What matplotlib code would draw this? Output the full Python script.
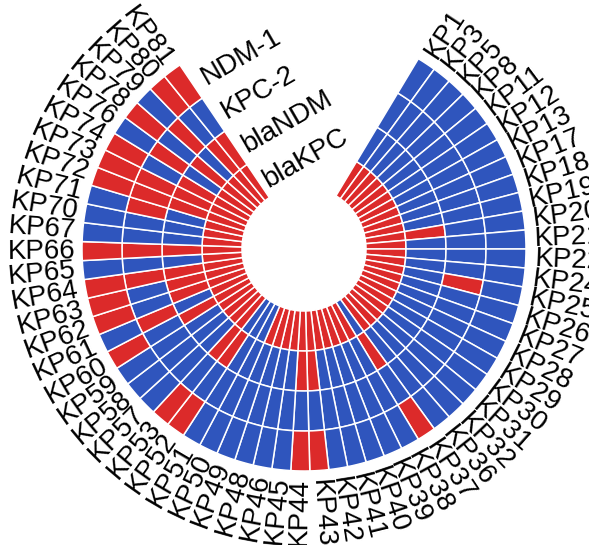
import numpy as np
import matplotlib.pyplot as plt

samples = ['KP1', 'KP3', 'KP5', 'KP8', 'KP11', 'KP12', 'KP13', 'KP17', 'KP18', 'KP19',
           'KP20', 'KP21', 'KP22', 'KP24', 'KP25', 'KP26', 'KP27', 'KP28', 'KP29', 'KP30',
           'KP31', 'KP32', 'KP36', 'KP37', 'KP38', 'KP39', 'KP40', 'KP41', 'KP42', 'KP43',
           'KP44', 'KP45', 'KP46', 'KP48', 'KP49', 'KP50', 'KP51', 'KP52', 'KP53', 'KP57',
           'KP58', 'KP59', 'KP60', 'KP61', 'KP62', 'KP63', 'KP64', 'KP65', 'KP66', 'KP67',
           'KP70', 'KP71', 'KP72', 'KP73', 'KP74', 'KP76', 'KP78', 'KP79', 'KP80', 'KP81']

tracks = ['blaKPC', 'blaNDM', 'KPC-2', 'NDM-1']

# 1 = positive (red), 0 = negative (blue); one list per track, in sample order
blaKPC = [1, 1, 1, 1, 1, 1, 1, 1, 1, 1,
          1, 1, 1, 1, 1, 1, 1, 1, 1, 1,
          1, 1, 1, 0, 1, 1, 1, 1, 1, 1,
          1, 1, 1, 1, 1, 0, 0, 0, 1, 1,
          1, 1, 1, 1, 1, 1, 1, 1, 1, 1,
          1, 1, 1, 1, 1, 1, 1, 1, 1, 1]
blaNDM = [0, 0, 0, 0, 0, 0, 0, 0, 0, 0,
          1, 0, 0, 0, 0, 0, 0, 0, 0, 0,
          0, 0, 0, 1, 0, 0, 0, 0, 0, 1,
          1, 0, 0, 0, 0, 0, 0, 1, 1, 0,
          0, 0, 1, 0, 1, 1, 1, 0, 1, 0,
          0, 0, 1, 1, 1, 0, 1, 0, 1, 1]
KPC2 = [0, 0, 0, 0, 0, 0, 0, 0, 0, 0,
        0, 0, 0, 0, 1, 0, 0, 0, 0, 0,
        0, 0, 0, 0, 0, 0, 0, 0, 0, 0,
        0, 0, 0, 0, 0, 0, 0, 0, 0, 0,
        0, 0, 0, 1, 0, 0, 1, 0, 1, 0,
        0, 1, 1, 1, 0, 1, 0, 1, 0, 0]
NDM1 = [0, 0, 0, 0, 0, 0, 0, 0, 0, 0,
        0, 0, 0, 0, 0, 0, 0, 0, 0, 0,
        0, 0, 0, 1, 0, 0, 0, 0, 0, 1,
        1, 0, 0, 0, 0, 0, 0, 1, 1, 0,
        0, 0, 1, 0, 1, 1, 1, 0, 1, 0,
        0, 0, 1, 1, 1, 0, 1, 0, 1, 1]

values = [blaKPC, blaNDM, KPC2, NDM1]

red = '#dc2a2a'
blue = '#2f55bd'

n = len(samples)
start, stop = np.deg2rad(31), np.deg2rad(326)
step = (stop - start) / n
theta = start + step * (np.arange(n) + 0.5)

r0, ring = 62, 40

fig = plt.figure(figsize=(5.89, 5.45), dpi=100)
ax = fig.add_axes([64 / 589, 56 / 545, 480 / 589, 480 / 545], projection='polar')
ax.set_theta_zero_location('N')
ax.set_theta_direction(-1)
ax.set_ylim(0, 240)
ax.axis('off')

for i, vals in enumerate(values):
    cols = [red if v else blue for v in vals]
    ax.bar(theta, ring, width=step, bottom=r0 + i * ring, color=cols,
           edgecolor='white', linewidth=1.1, align='center')

# sample labels, radial
for t, name in zip(theta, samples):
    deg = np.rad2deg(t)
    if deg < 180:
        ax.text(t, 231, name, rotation=90 - deg, rotation_mode='anchor',
                ha='left', va='center', fontsize=20, family='Liberation Sans')
    else:
        ax.text(t, 229, name, rotation=270 - deg, rotation_mode='anchor',
                ha='right', va='center', fontsize=20, family='Liberation Sans')

# track names in the gap
for i, name in enumerate(tracks):
    ax.text(stop + 0.06, r0 + i * ring + ring / 2 - 4, name, rotation=30,
            rotation_mode='anchor', ha='left', va='center', fontsize=20,
            family='Liberation Sans')

fig.savefig('out.png', dpi=100)
